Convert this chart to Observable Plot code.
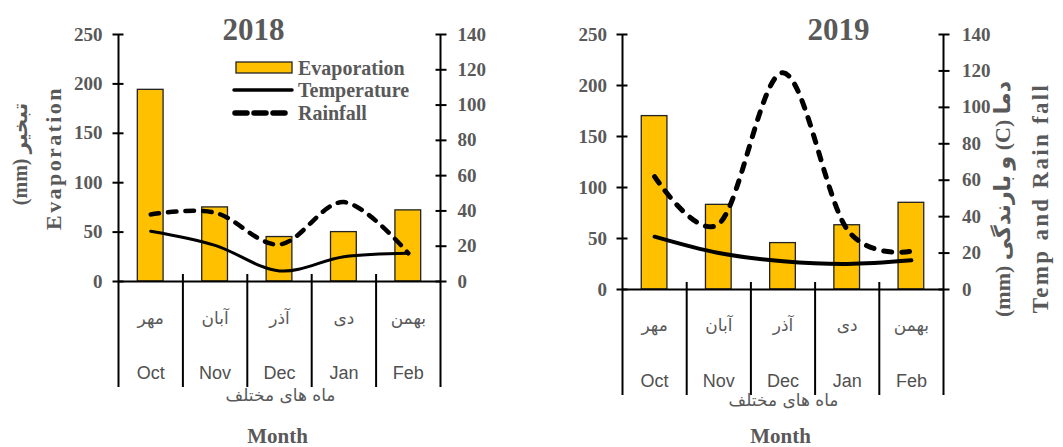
<!DOCTYPE html>
<html><head><meta charset="utf-8">
<script src="https://cdn.jsdelivr.net/npm/d3@7"></script>
<script src="https://cdn.jsdelivr.net/npm/@observablehq/plot@0.6"></script>
<style>
html,body{margin:0;padding:0;background:#fff;}
#wrap{display:flex;width:1063px;height:447px;overflow:hidden;}
#wrap svg{overflow:visible;}
.spaced text{letter-spacing:2.4px;}
.spaced2 text{letter-spacing:2.3px;}
</style></head><body><div id="wrap"></div>
<script>
// ---- data ----
const monthsEn = ["Oct", "Nov", "Dec", "Jan", "Feb"];
const monthsFa = ["مهر", "آبان", "آذر", "دی", "بهمن"];
const evap2018 = [194, 75, 45, 50, 72];
const temp2018 = [28.5, 20.5, 6, 14, 16];
const rain2018 = [38, 39, 21, 45, 16];
const evap2019 = [170, 83, 45.5, 63, 85];
const temp2019 = [29, 20, 15.5, 14, 16];
const rain2019 = [62, 36, 119, 33, 21];
const leftTicks = [0, 50, 100, 150, 200, 250];
const rightTicks = [0, 20, 40, 60, 80, 100, 120, 140];
const titles = ["2018", "2019"];
const legendLabels = ["Evaporation", "Temperature", "Rainfall"];

const SERIF = "Liberation Serif, DejaVu Sans, serif";
const SANS = "Liberation Sans Narrow, Liberation Sans, Arial, sans-serif";
const FA = "DejaVu Sans, sans-serif";
const GREY = "#595959";
const K = 250 / 140; // right-axis to left-axis units

function legendMark() {
  return () => {
    const g = d3.create("svg:g").attr("font-family", SERIF).attr("font-weight", "bold")
      .attr("font-size", 20).attr("fill", GREY).attr("text-anchor", "start");
    g.append("rect").attr("x", 236).attr("y", 62).attr("width", 56).attr("height", 11)
      .attr("fill", "#FFC000").attr("stroke", "#222").attr("stroke-width", 1.3);
    g.append("line").attr("x1", 234).attr("x2", 292).attr("y1", 90).attr("y2", 90)
      .attr("stroke", "black").attr("stroke-width", 3.5).attr("stroke-linecap", "round");
    g.append("line").attr("x1", 235).attr("x2", 290).attr("y1", 113).attr("y2", 113)
      .attr("stroke", "black").attr("stroke-width", 5.5).attr("stroke-linecap", "round")
      .attr("stroke-dasharray", "12 7");
    const ys = [75, 97, 120];
    legendLabels.forEach((t, i) => g.append("text").attr("x", 298).attr("y", ys[i])
      .attr("text-anchor", "start").text(t));
    return g.node();
  };
}

function panel(o) {
  const idx = d3.range(monthsEn.length);
  const bars = idx.map(i => ({i, v: o.evap[i]}));
  const tl = idx.map(i => ({i, v: o.temp[i] * K}));
  const rl = idx.map(i => ({i, v: o.rain[i] * K}));
  const bounds = d3.range(monthsEn.length + 1).map(i => i - 0.5);
  const inner = bounds.slice(1, -1);
  const axisText = {label: null, fontFamily: SERIF, fontSize: 19, fontWeight: "bold", fill: GREY, stroke: "black", strokeWidth: 2};
  const marks = [
    Plot.rectY(bars, {x1: d => d.i - 0.2, x2: d => d.i + 0.2, y1: 0, y2: "v", fill: "#FFC000", stroke: "#222", strokeWidth: 1.3}),
    Plot.ruleY([0], {strokeWidth: 2}),
    Plot.ruleX([bounds[0], bounds[bounds.length - 1]], {strokeWidth: 2}),
    Plot.axisX(bounds, {anchor: "bottom", label: null, tickSize: 106, fill: "none", stroke: "black", strokeWidth: 2}),
    Plot.axisX(inner, {anchor: "bottom", label: null, tickSize: 7, dy: -7, fill: "none", stroke: "black", strokeWidth: 2}),
    Plot.axisY(leftTicks, {anchor: "left", tickSize: 11, dx: 5.5, tickPadding: o.padL, ...axisText}),
    Plot.axisY(rightTicks.map(v => v * K), {anchor: "right", tickSize: 11, dx: -5.5, tickPadding: o.padR,
      tickFormat: d => String(Math.round(d / K)), ...axisText}),
    Plot.line(tl, {x: "i", y: "v", curve: "cardinal", stroke: "black", strokeWidth: o.tw, strokeLinecap: "round"}),
    Plot.line(rl, {x: "i", y: "v", curve: "cardinal", stroke: "black", strokeWidth: o.rw, strokeLinecap: "round", strokeDasharray: o.dash}),
    Plot.text([o.title], {frameAnchor: "top", dx: o.titleDx, dy: 5, lineAnchor: "bottom", textAnchor: "middle", fontFamily: SERIF, fontSize: 31, fontWeight: "bold", fill: GREY}),
    Plot.text(monthsFa, {x: (d, i) => i, text: d => d, frameAnchor: "bottom", dy: o.faDy, lineAnchor: "middle", textAnchor: "middle", fontFamily: FA, fontSize: 17, fill: GREY}),
    Plot.text(monthsEn, {x: (d, i) => i, text: d => d, frameAnchor: "bottom", dy: o.enDy, lineAnchor: "middle", textAnchor: "middle", fontFamily: SANS, fontSize: 18, fill: "#505050"}),
    Plot.text(["ماه های مختلف"], {frameAnchor: "bottom", dx: o.subDx, dy: o.subDy, lineAnchor: "middle", textAnchor: "middle", fontFamily: FA, fontSize: 17, fill: GREY}),
    Plot.text(["Month"], {frameAnchor: "bottom", dx: o.monDx, dy: o.monDy, lineAnchor: "bottom", textAnchor: "middle", fontFamily: SERIF, fontSize: 21, fontWeight: "bold", fill: GREY})
  ];
  if (o.leftTitle) {
    marks.push(Plot.text(["Evaporation"], {className: "spaced", frameAnchor: "left", dx: -65, dy: 0, rotate: -90, lineAnchor: "middle", textAnchor: "middle", fontFamily: SERIF, fontSize: 22, fontWeight: "bold", fill: GREY}));
    marks.push(Plot.text(["(mm) تبخیر"], {frameAnchor: "left", dx: -98, dy: -4, rotate: -90, lineAnchor: "middle", textAnchor: "middle", fontFamily: SERIF, fontSize: 20, fontWeight: "bold", fill: GREY}));
  }
  if (o.rightTitle) {
    marks.push(Plot.text(["Temp and Rain fall"], {className: "spaced2", frameAnchor: "right", dx: 97, dy: 36, rotate: -90, lineAnchor: "middle", textAnchor: "middle", fontFamily: SERIF, fontSize: 23, fontWeight: "bold", fill: GREY}));
    marks.push(Plot.text(["(mm) و بارندگی (C) دما"], {frameAnchor: "right", dx: 59, dy: 37, rotate: -90, lineAnchor: "middle", textAnchor: "middle", fontFamily: SERIF, fontSize: 22, fontWeight: "bold", fill: GREY}));
  }
  if (o.legend) marks.push(legendMark());
  return Plot.plot({
    width: o.width, height: 447,
    marginLeft: o.mL, marginRight: o.mR, marginTop: 34, marginBottom: o.mB,
    style: {fontFamily: SERIF, background: "white", overflow: "visible"},
    x: {type: "linear", domain: [bounds[0], bounds[bounds.length - 1]], axis: null},
    y: {type: "linear", domain: [0, 250], axis: null},
    marks
  });
}

const wrap = document.getElementById("wrap");
wrap.append(panel({evap: evap2018, temp: temp2018, rain: rain2018, width: 531, mL: 118, mR: 91, mB: 166,
  title: titles[0], titleDx: -26, padL: 10.5, padR: 11.5, tw: 3, rw: 4.5, dash: "8.5 9",
  faDy: 37, enDy: 92, subDx: 1, subDy: 114, monDx: -2, monDy: 161, leftTitle: true, legend: true}));
wrap.append(panel({evap: evap2019, temp: temp2019, rain: rain2019, width: 532, mL: 91, mR: 120, mB: 158,
  title: titles[1], titleDx: 55.5, padL: 10, padR: 13, tw: 4, rw: 5, dash: "8 10",
  faDy: 36, enDy: 92, subDx: 0.5, subDy: 111, monDx: -2.5, monDy: 153, rightTitle: true}));
</script></body></html>
